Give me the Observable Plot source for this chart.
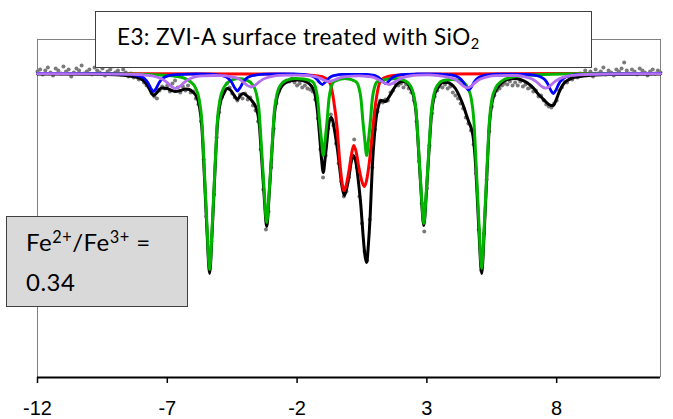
<!DOCTYPE html>
<html>
<head>
<meta charset="utf-8">
<script src="https://cdn.jsdelivr.net/npm/d3@7"></script>
<script src="https://cdn.jsdelivr.net/npm/@observablehq/plot@0.6"></script>
<style>
  body { margin: 0; background: #fff; }
  #wrap { position: relative; width: 673px; height: 419px; overflow: hidden; background: #fff; }
  #wrap svg { position: absolute; left: 0; top: 0; }
  .box { position: absolute; box-sizing: border-box; border: 1.5px solid #404040; font-family: Lato, "Open Sans", sans-serif; color: #000; }
  #title { left: 95px; top: 11px; width: 497px; height: 57px; background: #fff; font-size: 22.5px; letter-spacing: 0.4px; }
  #title span { position: absolute; left: 21px; top: 11px; white-space: nowrap; line-height: 1.2; }
  #ratio { left: 6px; top: 216px; width: 182px; height: 91px; background: #d9d9d9; font-size: 24px; letter-spacing: 0.5px; }
  #ratio .l1 { position: absolute; left: 19px; top: 11px; white-space: nowrap; line-height: 1.2; }
  #ratio .l2 { position: absolute; left: 19px; top: 51px; white-space: nowrap; line-height: 1.2; }
  sup { font-size: 68%; vertical-align: 0; position: relative; top: -0.5em; }
  sub { font-size: 65%; vertical-align: 0; position: relative; top: 0.3em; }
</style>
</head>
<body>
<div id="wrap">
  <div id="chart"></div>
  <div class="box" id="title"><span>E3: ZVI-A surface treated with SiO<sub>2</sub></span></div>
  <div class="box" id="ratio"><span class="l1">Fe<sup>2+</sup>/Fe<sup>3+</sup> =</span><span class="l2">0.34</span></div>
</div>
<script>
// Velocity (mm/s) axis and absorption (per mille, increasing downward)
const xDomain = [-12, 12];
const yDomain = [304, -34];
const xTicks = [-12, -7, -2, 3, 8];

// Measured spectrum (grey points)
const dotVel = [
  -12,-11.9,-11.8,-11.7,-11.6,-11.5,-11.4,-11.3,-11.2,-11.1,
  -11,-10.9,-10.8,-10.7,-10.6,-10.5,-10.4,-10.3,-10.2,-10.1,
  -10,-9.9,-9.8,-9.7,-9.6,-9.5,-9.4,-9.3,-9.2,-9.1,
  -9,-8.9,-8.8,-8.7,-8.6,-8.5,-8.4,-8.3,-8.2,-8.1,
  -8,-7.9,-7.8,-7.7,-7.6,-7.5,-7.4,-7.3,-7.2,-7.1,
  -7,-6.9,-6.8,-6.7,-6.6,-6.5,-6.4,-6.3,-6.2,-6.1,
  -6,-5.9,-5.8,-5.7,-5.6,-5.5,-5.4,-5.3,-5.2,-5.1,
  -5,-4.9,-4.8,-4.7,-4.6,-4.5,-4.4,-4.3,-4.2,-4.1,
  -4,-3.9,-3.8,-3.7,-3.6,-3.5,-3.4,-3.3,-3.2,-3.1,
  -3,-2.9,-2.8,-2.7,-2.6,-2.5,-2.4,-2.3,-2.2,-2.1,
  -2,-1.9,-1.8,-1.7,-1.6,-1.5,-1.4,-1.3,-1.2,-1.1,
  -1,-0.9,-0.8,-0.7,-0.6,-0.5,-0.4,-0.3,-0.2,-0.1,
  0,0.1,0.2,0.3,0.4,0.5,0.6,0.7,0.8,0.9,
  1,1.1,1.2,1.3,1.4,1.5,1.6,1.7,1.8,1.9,
  2,2.1,2.2,2.3,2.4,2.5,2.6,2.7,2.8,2.9,
  3,3.1,3.2,3.3,3.4,3.5,3.6,3.7,3.8,3.9,
  4,4.1,4.2,4.3,4.4,4.5,4.6,4.7,4.8,4.9,
  5,5.1,5.2,5.3,5.4,5.5,5.6,5.7,5.8,5.9,
  6,6.1,6.2,6.3,6.4,6.5,6.6,6.7,6.8,6.9,
  7,7.1,7.2,7.3,7.4,7.5,7.6,7.7,7.8,7.9,
  8,8.1,8.2,8.3,8.4,8.5,8.6,8.7,8.8,8.9,
  9,9.1,9.2,9.3,9.4,9.5,9.6,9.7,9.8,9.9,
  10,10.1,10.2,10.3,10.4,10.5,10.6,10.7,10.8,10.9,
  11,11.1,11.2,11.3,11.4,11.5,11.6,11.7,11.8,11.9,
  12
];
const dotAbs = [
  -2,-4,1,-3,-6,-1,2,-5,-3,0,
  -7,-2,-4,3,-1,-5,-3,-8,0,-2,
  -4,1,-6,-3,-1,-5,2,-2,-4,-7,
  -1,-3,1,-4,-1,3,0,4,2,6,
  4,9,12,14,20,23,25,17,13,15,
  12,18,10,7,14,19,13,17,12,19,
  18,25,31,48,86,143,189,168,121,64,
  39,24,17,10,14,20,24,27,21,25,
  20,26,24,32,37,48,76,116,156,138,
  94,55,30,18,12,9,7,8,5,9,
  12,10,14,12,15,16,18,26,45,76,
  104,82,55,41,52,70,90,108,123,118,
  104,84,66,94,123,150,178,187,146,94,
  56,38,27,29,26,27,19,17,11,12,
  10,14,11,15,19,27,48,88,130,158,
  115,72,40,23,17,13,14,11,15,13,
  19,22,25,30,35,44,50,57,71,100,
  156,197,160,106,58,33,22,17,15,12,
  10,11,8,12,9,12,8,13,11,15,
  14,18,17,23,22,27,31,33,34,30,
  27,17,14,8,9,4,6,1,4,0,
  2,-3,1,-2,3,-4,0,-2,-6,1,
  -3,-1,2,-4,-2,-5,-11,-3,0,-4,
  -2,1,-5,-3,-1,2,-2,-4,0,-3,
  -1
];

// Total fit (black)
const blackVel = [-12,-10,-9,-8.6,-8.3,-8.05,-7.88,-7.75,-7.63,-7.53,-7.43,-7.31,-7.18,-7,-6.83,-6.68,-6.5,-6.3,-6.15,-6,
  -5.92,-5.77,-5.67,-5.57,-5.47,-5.37,-5.27,-5.17,-5.07,-4.97,-4.82,-4.69,-4.55,-4.42,-4.3,-4.18,-4.08,-3.95,-3.86,-3.72,
  -3.6,-3.47,-3.37,-3.27,-3.17,-3.07,-2.97,-2.87,-2.77,-2.62,-2.42,-2.2,-2,-1.8,-1.6,-1.5,-1.41,-1.31,-1.21,-1.13,
  -1.06,-0.99,-0.92,-0.85,-0.77,-0.69,-0.62,-0.52,-0.44,-0.35,-0.27,-0.18,-0.1,0,0.09,0.18,0.28,0.38,0.46,0.54,
  0.61,0.68,0.75,0.82,0.9,0.98,1.06,1.15,1.24,1.33,1.41,1.5,1.6,1.73,1.88,2.05,2.2,2.33,2.48,2.58,
  2.68,2.78,2.88,2.98,3.08,3.18,3.28,3.43,3.63,3.8,3.95,4.1,4.26,4.43,4.53,4.61,4.7,4.78,4.86,4.93,
  5.01,5.11,5.21,5.31,5.41,5.51,5.66,5.86,6.1,6.4,6.6,6.85,7,7.12,7.27,7.42,7.57,7.7,7.8,7.87,
  7.97,8.09,8.22,8.41,8.6,8.9,9.5,10,12];
const blackAbs = [0.5,0.8,1.2,2,3,5,8,12.5,18.5,22,20,16,14.5,15,17,18,17,15.5,16,19,
  21,32,53,103,158,200,157,101,51,31,20,15,17,22,26,22,20,22,24,28,
  33,47,83,122,153,119,78,40,24,14,9,7,6.5,7,9,11,14,21,39,63,
  85,99,85,68,49,44,48,63,77,97,113,122,116,103,88,82,91,112,133,161,
  181,189,170,140,92,62,42,31,27,27.5,28,25,21,15,10,8,8.5,13,22,38,
  77,120,152,120,78,40,23,14,9,9,11,15,23,34,42,48,54,63,85,118,
  160,200,158,102,51,29,17,10,6,5,6,9,12,15,20,24,28,31,32,32,
  27,19,12,7,4.5,3,1.5,1,0.5];

// Doublet (red)
const redVel = [-12,-3,-1.6,-1.2,-0.95,-0.84,-0.71,-0.59,-0.46,-0.36,-0.28,-0.2,-0.1,0,0.09,0.18,0.28,0.38,0.51,0.6,
  0.7,0.8,0.89,1,1.12,1.25,1.5,2,3.5,12];
const redAbs = [0,0.5,1.5,2.5,4,6,11,27,54,87,107,117,111,97,82,72,79,94,109,113,
  104,85,62,35,15,6,3,1.5,0.5,0];

// Sextet 1 (green)
const greenVel = [-12,-9.5,-8.5,-7.3,-6.6,-6.12,-5.92,-5.77,-5.67,-5.57,-5.47,-5.37,-5.27,-5.17,-5.07,-4.97,-4.82,-4.62,-4.27,
  -3.92,-3.72,-3.57,-3.47,-3.37,-3.27,-3.17,-3.07,-2.97,-2.87,-2.77,-2.62,-2.42,-2.08,-1.75,
  -1.41,-1.29,-1.21,-1.13,-1.06,-0.99,-0.92,-0.85,-0.77,-0.69,-0.57,-0.155,
  0.26,0.38,0.46,0.54,0.61,0.68,0.75,0.82,0.9,0.98,1.1,1.78,
  2.13,2.33,2.48,2.58,2.68,2.78,2.88,2.98,3.08,3.18,3.28,3.43,3.63,4,
  4.36,4.56,4.71,4.81,4.91,5.01,5.11,5.21,5.31,5.41,5.51,5.66,5.86,6.2,6.8,7.5,9,12];
const greenAbs = [0,0.3,0.5,1.5,3,8,14,26,47,98,153,196,153,98,47,26,14,8,5,
  7,11,20,36,75,116,149,116,75,36,20,11,7,5,5.5,
  8,14,25,49,67,82,67,49,25,14,8,5,
  8,14,25,49,67,82,67,49,25,14,8,5,
  7,11,20,36,75,117,150,117,75,36,20,11,7,6,
  8,14,25,47,98,152,195,152,98,47,25,14,8,4,2,1,0.3,0];

// Sextet 2 (blue)
const blueVel = [-12,-10,-8.63,-8.28,-8.03,-7.88,-7.75,-7.63,-7.53,-7.43,-7.31,-7.18,-7.03,-6.78,-6.2,-5.9,
  -5.4,-5.05,-4.8,-4.65,-4.52,-4.4,-4.3,-4.2,-4.08,-3.95,-3.8,-3.55,-3.2,-2.67,
  -2.13,-1.78,-1.53,-1.38,-1.25,-1.13,-1.03,-0.93,-0.81,-0.68,-0.53,-0.28,0.19,
  0.66,0.91,1.06,1.19,1.31,1.41,1.51,1.63,1.76,1.91,2.16,2.6,3.01,
  3.51,3.86,4.11,4.26,4.39,4.51,4.61,4.71,4.83,4.96,5.11,5.36,5.71,6.24,
  6.77,7.12,7.37,7.52,7.65,7.77,7.87,7.97,8.09,8.22,8.37,8.62,8.97,10,12];
const blueAbs = [0,0.2,0.7,1.4,2.9,5,9,15,18,15,9,5,2.9,1.4,0.6,0.5,
  0.7,1.4,2.8,4.9,8.8,14.5,17.5,14.5,8.8,4.9,2.8,1.4,0.7,0.5,
  0.5,0.9,1.8,3.1,5.5,9,11,9,5.5,3.1,1.8,0.9,0.8,
  0.8,1.6,2.8,5,8.3,10,8.3,5,2.8,1.6,0.8,0.5,0.4,
  0.7,1.3,2.6,4.6,8.3,13.7,16.5,13.7,8.3,4.6,2.6,1.3,0.7,0.6,
  0.8,1.6,3.2,5.6,10,16.6,20,16.6,10,5.6,3.2,1.6,0.8,0.3,0];

// Sextet 3 (purple)
const purpleVel = [-12,-10,-9,-8.13,-7.78,-7.48,-7.28,-7.13,-6.98,-6.83,-6.68,-6.53,-6.38,-6.23,-6.08,-5.88,-5.58,-5.22,
  -4.87,-4.57,-4.37,-4.22,-4.07,-3.92,-3.77,-3.62,-3.47,-3.32,-3.17,-2.97,-2.67,-2.27,
  -1.93,-1.58,-1.38,-1.23,-1.08,-0.93,-0.78,-0.63,-0.48,-0.33,-0.18,0.38,
  0.74,0.94,1.09,1.24,1.39,1.54,1.69,1.84,1.99,2.14,2.34,2.64,3.05,
  3.46,3.76,3.96,4.11,4.26,4.41,4.56,4.71,4.86,5.01,5.16,5.36,5.66,6.06,
  6.47,6.77,6.97,7.12,7.27,7.42,7.57,7.72,7.87,8.02,8.17,8.37,8.67,9.1,10,12];
const purpleAbs = [0.2,0.4,0.6,1,1.8,3,4.7,6.6,9.6,13.2,15,13.2,9.6,6.6,4.7,3,2.3,2,
  2.2,3.1,4.2,5.9,8.6,11.9,13.5,11.9,8.6,5.9,4.2,2.9,1.8,1.6,
  1.6,2,2.6,3.5,5.1,7,8,7.2,5.6,4.2,3.3,2.3,
  3,3.9,5.6,7.6,9.7,11,9.7,7.1,5,3.6,2.5,1.7,1.4,
  2.2,3.3,4.6,6.3,9.2,12.6,14.3,12.6,9.2,6.3,4.6,3.1,2.2,2,
  2,3.3,4.6,6.5,9.4,12.9,14.7,12.9,9.4,6.5,4.6,2.9,1.8,1,0.5,0.2];

const rows = (vs, as) => vs.map((v, i) => ({v, a: as[i]}));
const dots = rows(dotVel, dotAbs);
const black = rows(blackVel, blackAbs);
const red = rows(redVel, redAbs);
const green = rows(greenVel, greenAbs);
const blue = rows(blueVel, blueAbs);
const purple = rows(purpleVel, purpleAbs);

const lineOpts = (stroke, w) => ({x: "v", y: "a", stroke, strokeWidth: w, curve: "monotone-x", strokeLinejoin: "round"});

const chart = Plot.plot({
  width: 673,
  height: 419,
  marginLeft: 37,
  marginRight: 13,
  marginTop: 39,
  marginBottom: 42,
  style: {fontFamily: "'Liberation Sans', Arial, sans-serif", fontSize: "20px", background: "white", color: "#000"},
  x: {domain: xDomain},
  y: {domain: yDomain, axis: null},
  marks: [
    Plot.ruleX(xDomain, {stroke: "#808080", strokeWidth: 1}),
    Plot.ruleY([yDomain[1]], {stroke: "#808080", strokeWidth: 1}),
    Plot.dot(dots, {x: "v", y: "a", r: 2, fill: "#7a7a7a", stroke: "none"}),
    Plot.line(black, lineOpts("#000000", 3)),
    Plot.line(red, lineOpts("#ff0000", 3)),
    Plot.line(green, lineOpts("#00b400", 3)),
    Plot.line(blue, lineOpts("#0000ff", 2.8)),
    Plot.line(purple, lineOpts("#b46ef0", 2.8)),
    Plot.ruleY([yDomain[0]], {stroke: "#000", strokeWidth: 2}),
    Plot.axisX({ticks: xTicks, tickSize: 6, tickPadding: 17, tickFormat: d => String(d), stroke: "#000", strokeWidth: 1.5, fill: "#000", label: null})
  ]
});
document.getElementById("chart").appendChild(chart);
</script>
</body>
</html>
